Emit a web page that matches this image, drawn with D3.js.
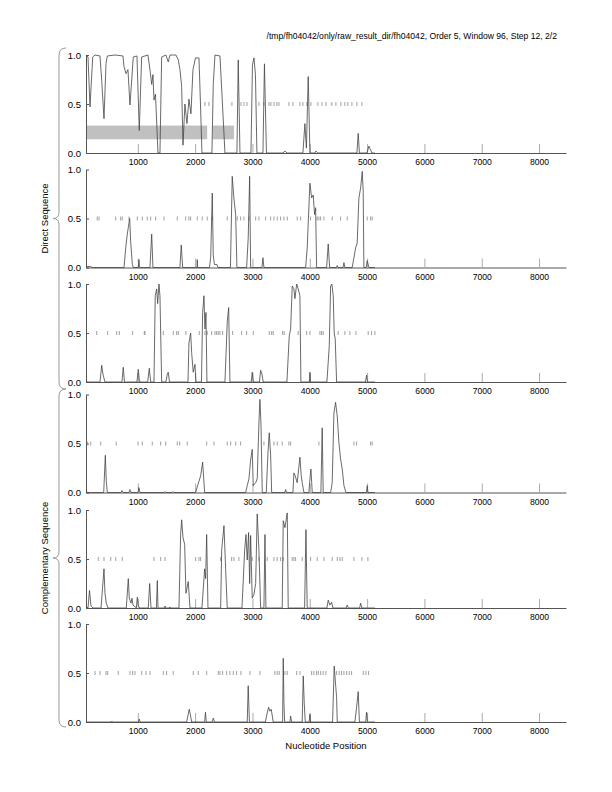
<!DOCTYPE html>
<html>
<head>
<meta charset="utf-8">
<script src="https://cdn.jsdelivr.net/npm/d3@7"></script>
<style>
  body { margin: 0; background: #fff; }
  text { font-family: "Liberation Sans", Arial, Helvetica, sans-serif; fill: #000; }
</style>
</head>
<body>
<div id="chart"></div>
<script>
// ---- data ----
const title = "/tmp/fh04042/only/raw_result_dir/fh04042, Order 5, Window 96, Step 12, 2/2";
const xLabel = "Nucleotide Position";
const groupLabels = ["Direct Sequence", "Complementary Sequence"];
const xTicks = [1000, 2000, 3000, 4000, 5000, 6000, 7000, 8000];
const yTicks = [0.0, 0.5, 1.0];
const yTickLabels = ["0.0", "0.5", "1.0"];

// gray bars in the first frame: [start, end]
const frame1Boxes = [[96, 2210], [2305, 2677]];
const boxRange = [0.14, 0.28];

// coding potential, [position, value]
const frame1 = [[96,1.0],[131,0.98],[166,0.47],[213,0.98],[253,1.0],[340,0.99],[370,0.74],[410,0.35],[445,0.91],[467,0.99],
  [602,1.0],[741,0.99],[759,0.88],[794,0.81],[828,0.85],[863,0.49],[921,0.98],[985,0.99],[1025,0.23],[1067,0.98],
  [1177,1.0],[1212,0.85],[1242,0.7],[1264,0.8],[1282,0.54],[1308,0.6],[1352,0],[1386,0],[1416,0.98],[1491,1.0],
  [1531,0.93],[1561,1.0],[1665,1.0],[1706,0.95],[1735,0.85],[1765,0.68],[1788,0.08],[1822,0.5],[1857,0.3],[1892,0.55],
  [1927,0.4],[1962,0.85],[2006,0.97],[2067,0.97],[2093,0.5],[2119,0],[2293,0],[2316,0.7],[2346,1.0],[2433,0.99],
  [2468,0.6],[2520,0],[2729,0],[2752,0.95],[2782,0],[2974,0],[3000,0.9],[3026,0.97],[3052,0.8],[3078,0],
  [3183,0],[3209,0.91],[3244,0],[3532,0],[3567,0.02],[3601,0],[3880,0],[3915,0.3],[3941,0.05],[3973,0.78],
  [4002,0],[4090,0],[4107,0.02],[4142,0],[4822,0],[4845,0.2],[4866,0],[4997,0],[5031,0.07],[5084,0],[5136,0]];
const frame2 = [[96,0],[116,0.01],[166,0.01],[213,0],[759,0],[789,0.2],[816,0.34],[858,0.5],[875,0.27],[904,0.03],
  [921,0],[1011,0],[1020,0.08],[1029,0],[1212,0],[1242,0.34],[1264,0],[1735,0],[1758,0.23],[1782,0],
  [2032,0],[2037,0.08],[2044,0],[2250,0],[2271,0.1],[2299,0.76],[2316,0.12],[2337,0.03],[2381,0.03],[2398,0],
  [2616,0],[2647,0.93],[2677,0.7],[2707,0.54],[2729,0],[2898,0],[2926,0.3],[2951,0.93],[2968,0],[3166,0],
  [3183,0.1],[3200,0],[3928,0],[3955,0.2],[4002,0.86],[4032,0.71],[4060,0.74],[4084,0.54],[4102,0.61],[4119,0],
  [4294,0],[4322,0.24],[4346,0],[4465,0],[4479,0.02],[4495,0],[4580,0],[4596,0.05],[4612,0],[4740,0],
  [4800,0.2],[4827,0.25],[4857,0.71],[4887,0.81],[4915,0.98],[4932,0.78],[4944,0],[4985,0],[5002,0.07],[5031,0],[5136,0]];
const frame3 = [[96,0],[340,0],[370,0.17],[392,0.08],[427,0],[724,0],[746,0.15],[767,0],[985,0],[1008,0.13],
  [1029,0],[1172,0],[1200,0.14],[1224,0],[1282,0],[1304,0.88],[1329,0.95],[1346,0.8],[1369,1.0],[1386,0.88],
  [1416,0],[1491,0],[1514,0.08],[1531,0.1],[1552,0],[1875,0],[1892,0.4],[1922,0.5],[1939,0.3],[1967,0.1],
  [1997,0.18],[2014,0],[2110,0],[2131,0.71],[2154,0.88],[2171,0.54],[2189,0.71],[2206,0],[2520,0],[2538,0.27],
  [2560,0.61],[2585,0.76],[2607,0],[2979,0],[2996,0.1],[3014,0],[3122,0],[3143,0.12],[3166,0.08],[3188,0],
  [3601,0],[3642,0.47],[3666,0.54],[3694,0.98],[3723,0.95],[3741,0.85],[3771,1.0],[3798,0.95],[3828,0.88],[3845,0],
  [3994,0],[4002,0.1],[4011,0],[4299,0],[4340,0.37],[4364,0.98],[4386,1.0],[4409,0.88],[4426,0.5],[4444,0.44],
  [4468,0],[4970,0],[4991,0.07],[5005,0],[5136,0]];
const frame4 = [[96,0],[405,0],[433,0.38],[450,0.12],[467,0],[705,0],[724,0.02],[745,0],[845,0],[863,0.03],[880,0],
  [1005,0],[1020,0.05],[1038,0],[1460,0],[1474,0.01],[1490,0],[1600,0],[1613,0.01],[1630,0],[2009,0],
  [2049,0.08],[2096,0.17],[2131,0.31],[2142,0.21],[2166,0],[2881,0],
  [2909,0.07],[2939,0.14],[2968,0.33],[2996,0.44],[3014,0.07],[3056,0.1],[3083,0.14],[3113,0.71],[3130,0.95],[3148,0.71],
  [3171,0],[3241,0],[3270,0.4],[3293,0.61],[3317,0.38],[3335,0],[3565,0],[3579,0.03],[3595,0],[3706,0],[3723,0.2],[3746,0.17],
  [3781,0.1],[3828,0.36],[3851,0.17],[3868,0.1],[3898,0],[3985,0],[3997,0.1],[4020,0.24],[4043,0],[4194,0],
  [4217,0.66],[4234,0],[4364,0],[4391,0.1],[4421,0.81],[4450,0.92],[4479,0.78],[4508,0.51],[4538,0.34],[4566,0.24],
  [4596,0.07],[4631,0],[4988,0],[5002,0.07],[5014,0],[5136,0]];
const frame5 = [[96,0.02],[131,0],[157,0.18],[183,0.02],[218,0],[358,0],[384,0.2],[410,0.4],[427,0.15],[450,0.05],
  [480,0],[799,0],[834,0.3],[851,0.1],[881,0.05],[898,0.1],[916,0.03],[975,0],[991,0.11],[1008,0.02],[1038,0],
  [1182,0],[1207,0.25],[1230,0],[1325,0],[1340,0.28],[1352,0],[1460,0],[1474,0.02],[1490,0],[1545,0],[1561,0.01],[1575,0],[1718,0],[1747,0.75],
  [1765,0.9],[1788,0.72],[1817,0.65],[1840,0.15],[1880,0.27],[1910,0],[2119,0],[2166,0.4],[2183,0.3],[2201,0.75],
  [2224,0],[2445,0],[2463,0.59],[2503,0.84],[2532,0.4],[2560,0],[2817,0],[2864,0.59],[2887,0.75],[2909,0.49],
  [2933,0.77],[2951,0.25],[2968,0.74],[2996,0.1],[3026,0.14],[3056,0.25],[3083,0.96],[3113,0.59],[3143,0],[3200,0],
  [3218,0.75],[3235,0],[3519,0],[3537,0.89],[3567,0.82],[3607,0.97],[3624,0],[3910,0],[3933,0.8],[3955,0],
  [4299,0],[4322,0.08],[4352,0.03],[4381,0.06],[4404,0],[4635,0],[4653,0.03],[4674,0],[4870,0],[4887,0.05],[4909,0],[5136,0]];
const frame6 = [[96,0],[528,0],[544,0.01],[560,0],[1010,0],[1025,0.03],[1040,0],[1852,0],[1880,0.08],[1897,0.13],[1915,0.08],[1939,0],[2166,0],[2180,0.1],
  [2194,0],[2300,0],[2316,0.04],[2337,0],[2909,0],[2926,0.37],[2947,0],[3226,0],[3253,0.08],[3282,0.15],[3305,0.11],
  [3328,0.13],[3362,0],[3526,0],[3537,0.65],[3549,0.2],[3561,0],[3654,0],[3666,0.06],[3683,0],[3868,0],
  [3886,0.47],[3903,0.2],[3921,0],[3990,0],[4002,0.08],[4014,0],[4398,0],[4426,0.57],[4468,0.25],[4479,0],[4787,0],
  [4817,0.15],[4845,0.31],[4866,0],[4975,0],[4991,0.1],[5005,0],[5136,0]];

// stop codon positions, drawn at 0.5
const stops1 = [2171,2241,2642,2799,2851,2904,3113,3200,3288,3322,3375,3427,3462,3636,3706,3828,3880,3950,4020,4142,
  4212,4281,4386,4456,4543,4613,4665,4735,4822,4909];
const stops2 = [293,323,614,701,729,846,991,1078,1165,1224,1311,1456,1688,1835,1892,1922,2037,2124,2211,2299,
  2560,2735,2794,2851,2939,3056,3113,3230,3317,3375,3432,3491,3549,3607,3781,3840,4014,4130,4160,4189,
  4247,4391,4538,4653,5002,5061,5089];
const stops3 = [282,474,631,677,910,1113,1125,1444,1618,1678,1706,1840,2072,2171,2211,2288,2346,2375,2403,2433,
  2480,2654,2811,2898,3014,3293,3335,3362,3526,3554,3798,3945,4002,4177,4207,4234,4496,4613,4700,4805,
  5019,5078,5136];
const stops4 = [119,178,352,624,1003,1078,1252,1399,1486,1688,1730,1863,2201,2328,2560,2620,2707,2794,3200,3375,
  3432,3519,3636,3666,4160,4770,4817,5061,5089];
const stops5 = [310,410,527,614,729,1282,1399,1474,2009,2067,2096,2445,2637,2677,2764,2996,3113,3258,3375,3432,
  3491,3537,3694,3723,3753,3868,4014,4130,4247,4391,4479,4526,4566,4770,4909,5014];
const stops6 = [253,340,445,474,659,863,910,950,1067,1142,1212,1444,1503,1618,1967,2054,2201,2403,2433,2480,
  2550,2607,2665,2724,2799,2956,3130,3392,3432,3467,3567,3607,3771,3828,4032,4072,4119,4147,4189,4234,
  4281,4468,4513,4555,4596,4643,4688,4730,4932,4979,5026];

const curves = [frame1, frame2, frame3, frame4, frame5, frame6];
const stops = [stops1, stops2, stops3, stops4, stops5, stops6];

// ---- layout ----
const width = 612, height = 792;
const plotLeft = 86, plotRight = 566;
const panelTops = [55, 169.5, 284, 394.5, 510, 624];
const panelHeight = 98;

const svg = d3.select('#chart').append('svg')
    .attr('width', width)
    .attr('height', height);

const x = d3.scaleLinear().domain([96, 8470]).range([plotLeft, plotRight]);

svg.append('text')
    .attr('x', 557)
    .attr('y', 39)
    .attr('text-anchor', 'end')
    .style('font-size', '8.6px')
    .text(title);

curves.forEach(function(curve, i) {
    const top = panelTops[i];
    const y = d3.scaleLinear().domain([0, 1]).range([top + panelHeight, top]);
    const g = svg.append('g').classed('panel', true);

    if (i === 0) {
        g.selectAll('rect.box')
            .data(frame1Boxes)
            .enter().append('rect')
            .classed('box', true)
            .attr('x', d => x(d[0]))
            .attr('width', d => x(d[1]) - x(d[0]))
            .attr('y', y(boxRange[1]))
            .attr('height', y(boxRange[0]) - y(boxRange[1]))
            .style('fill', '#c0c0c0');
    }

    // bottom axis
    const xAxis = d3.axisBottom(x)
        .tickValues(xTicks)
        .tickSizeInner(-9)
        .tickSizeOuter(0)
        .tickPadding(6)
        .tickFormat(d3.format('d'));
    const ax = g.append('g')
        .attr('transform', 'translate(0,' + (top + panelHeight) + ')')
        .call(xAxis);
    ax.select('.domain').attr('stroke', '#555');
    ax.selectAll('.tick line').attr('stroke', '#aaa');
    ax.selectAll('.tick text')
        .style('font-size', '8.6px')
        .style('font-family', '"Liberation Sans", Arial, sans-serif')
        .attr('fill', '#000');

    // left axis
    const yAxis = d3.axisLeft(y)
        .tickValues(yTicks)
        .tickSizeInner(-3)
        .tickSizeOuter(0)
        .tickPadding(5)
        .tickFormat((d, k) => yTickLabels[k]);
    const ay = g.append('g')
        .attr('transform', 'translate(' + plotLeft + ',0)')
        .call(yAxis);
    ay.select('.domain').attr('stroke', '#555');
    ay.selectAll('.tick line').attr('stroke', '#555');
    ay.selectAll('.tick text')
        .style('font-size', '9.5px')
        .style('font-family', '"Liberation Sans", Arial, sans-serif')
        .attr('fill', '#000');

    // stop codon markers
    g.selectAll('line.stop')
        .data(stops[i])
        .enter().append('line')
        .classed('stop', true)
        .attr('x1', d => x(d)).attr('x2', d => x(d))
        .attr('y1', y(0.5) - 2).attr('y2', y(0.5) + 2)
        .attr('stroke', '#888')
        .attr('stroke-width', 0.8);

    // coding potential curve
    const line = d3.line()
        .x(d => x(d[0]))
        .y(d => y(d[1]));
    g.append('path')
        .datum(curve)
        .attr('d', line)
        .attr('fill', 'none')
        .attr('stroke', '#444')
        .attr('stroke-width', 0.8);
});

// group braces
function brace(y0, y1) {
    const xl = 59, xh = 66, xt = 53;
    const ym = (y0 + y1) / 2;
    return 'M' + xh + ',' + y0 +
        ' Q' + xl + ',' + y0 + ' ' + xl + ',' + (y0 + 7) +
        ' L' + xl + ',' + (ym - 6) +
        ' Q' + xl + ',' + ym + ' ' + xt + ',' + ym +
        ' Q' + xl + ',' + ym + ' ' + xl + ',' + (ym + 6) +
        ' L' + xl + ',' + (y1 - 7) +
        ' Q' + xl + ',' + y1 + ' ' + xh + ',' + y1;
}
const braceSpans = [[48, 389], [389, 727]];
braceSpans.forEach(function(s, i) {
    svg.append('path')
        .attr('d', brace(s[0], s[1]))
        .attr('fill', 'none')
        .attr('stroke', '#999')
        .attr('stroke-width', 1);
    const cy = (s[0] + s[1]) / 2;
    svg.append('text')
        .attr('transform', 'translate(48,' + cy + ') rotate(-90)')
        .attr('text-anchor', 'middle')
        .style('font-size', '9.5px')
        .text(groupLabels[i]);
});

svg.append('text')
    .attr('x', 326)
    .attr('y', 749)
    .attr('text-anchor', 'middle')
    .style('font-size', '9.5px')
    .text(xLabel);
</script>
</body>
</html>
